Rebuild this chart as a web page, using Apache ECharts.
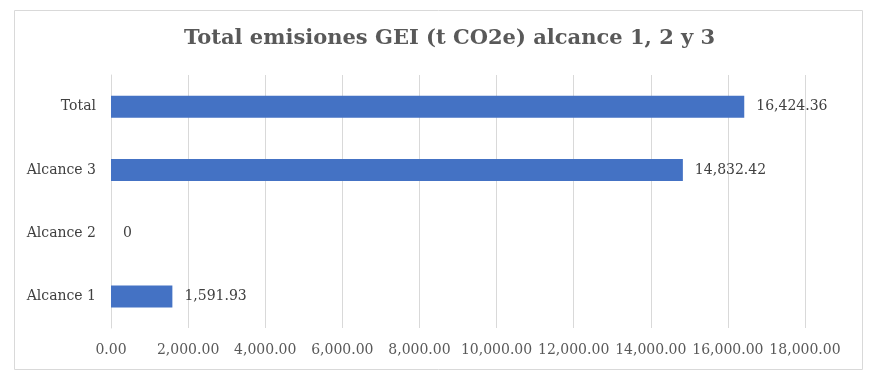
<!DOCTYPE html>
<html><head><meta charset="utf-8">
<script src="https://cdn.jsdelivr.net/npm/echarts@6/dist/echarts.min.js"></script>
<style>html,body{margin:0;padding:0;background:#fff}#c{width:876px;height:377px}</style>
</head><body><div id="c"></div>
<script>
var categories = ['Alcance 1', 'Alcance 2', 'Alcance 3', 'Total'];
var values = [1591.93, 0, 14832.42, 16424.36];
var xMin = 0, xMax = 18000, xStep = 2000;

function fmt(v, d) {
  return v.toLocaleString('en-US', {minimumFractionDigits: d, maximumFractionDigits: d});
}
var chart = echarts.init(document.getElementById('c'));
var serif = 'DejaVu Serif';
chart.setOption({
  animation: false,
  title: {
    text: 'Total emisiones GEI (t CO2e) alcance 1, 2 y 3',
    left: 179, top: 23,
    textStyle: {fontFamily: 'DejaVu Serif', fontWeight: 'bold', fontSize: 21, color: '#595959'}
  },
  graphic: [{type: 'rect', shape: {x: 14.5, y: 10.5, width: 848, height: 359},
    style: {fill: 'none', stroke: '#d9d9d9', lineWidth: 1}, silent: true}],
  grid: {left: 111, right: 71, top: 75, bottom: 49},
  xAxis: {
    type: 'value', min: xMin, max: xMax, interval: xStep,
    axisLine: {show: false}, axisTick: {show: false},
    splitLine: {lineStyle: {color: '#d9d9d9', width: 1}},
    axisLabel: {formatter: function (v) { return fmt(v, 2); }, margin: 15,
      fontFamily: serif, fontSize: 14, color: '#595959'}
  },
  yAxis: {
    type: 'category', data: categories,
    axisLine: {show: true, lineStyle: {color: '#d9d9d9'}}, axisTick: {show: false},
    axisLabel: {fontFamily: serif, fontSize: 14, color: '#404040', margin: 15}
  },
  series: [{
    type: 'bar', data: values, barWidth: 22,
    itemStyle: {color: '#4472c4'},
    label: {show: true, position: 'right', distance: 12,
      formatter: function (p) { return p.value === 0 ? '0' : fmt(p.value, 2); },
      fontFamily: serif, fontSize: 14, color: '#404040'}
  }]
});
</script></body></html>
